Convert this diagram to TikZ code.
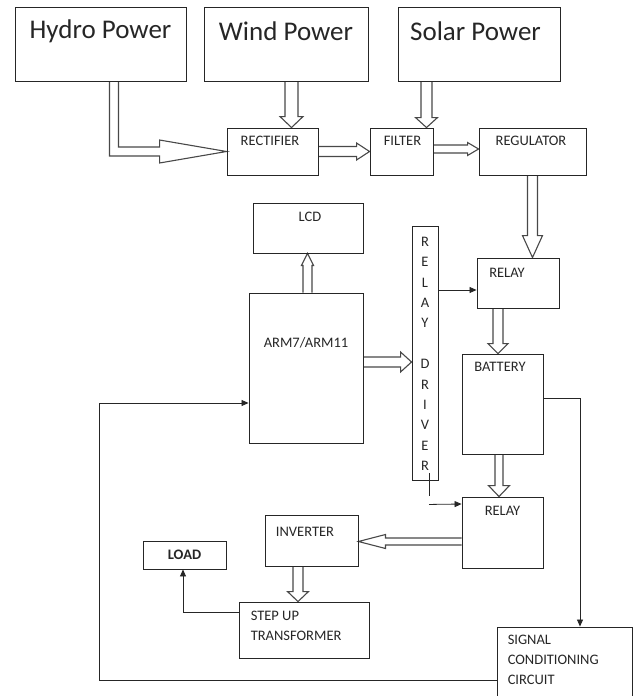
\documentclass[tikz,border=0pt]{standalone}
\usepackage{fontspec}
\setmainfont{Carlito}
\usetikzlibrary{arrows.meta,calc,backgrounds}
\definecolor{ink}{RGB}{38,38,38}
\definecolor{pipe}{RGB}{72,72,72}

\newcommand{\fatarrow}[5]{%
  \draw[fat] let \p1=#1, \p2=#2, \n1={veclen(\x2-\x1,\y2-\y1)},
    \n2={(\x2-\x1)/\n1}, \n3={(\y2-\y1)/\n1} in
    ({\x1-(\n3)*#3},{\y1+(\n2)*#3})
    -- ({\x2-(\n2)*#5-(\n3)*#3},{\y2-(\n3)*#5+(\n2)*#3})
    -- ({\x2-(\n2)*#5-(\n3)*#4},{\y2-(\n3)*#5+(\n2)*#4})
    -- (\p2)
    -- ({\x2-(\n2)*#5+(\n3)*#4},{\y2-(\n3)*#5-(\n2)*#4})
    -- ({\x2-(\n2)*#5+(\n3)*#3},{\y2-(\n3)*#5-(\n2)*#3})
    -- ({\x1+(\n3)*#3},{\y1-(\n2)*#3});
}

\begin{document}
\begin{tikzpicture}[
  x=1pt, y=1pt,
  box/.style={rectangle, draw=ink, line width=0.9pt, inner sep=0pt},
  ttl/.style={anchor=center, inner sep=0pt, text=ink, font=\fontsize{14.5}{20}\selectfont},
  big/.style={ttl, font=\fontsize{27}{32}\selectfont},
  fat/.style={draw=pipe, line width=1.1pt, fill=white, line join=miter},
  wire/.style={draw=ink, line width=0.8pt},
  arr/.style={wire, -{Triangle[length=7pt, width=6pt]}}
]
\useasboundingbox (0,0) rectangle (634,-696);

\node[box, minimum width=171pt, minimum height=74pt, label={[big,yshift=-25pt]north:Hydro Power}] (hydro) at (100.5,-44) {};
\node[box, minimum width=164pt, minimum height=74pt, label={[big,yshift=-25pt]north:Wind Power}] (wind) at (286,-44) {};
\node[box, minimum width=162pt, minimum height=74pt, label={[big,xshift=-3.5pt,yshift=-25pt]north:Solar Power}] (solar) at (479,-44) {};
\node[box, minimum width=91pt, minimum height=47pt, label={[ttl,xshift=-2.5pt,yshift=-13pt]north:RECTIFIER}] (rect) at (272.5,-151.5) {};
\node[box, minimum width=63pt, minimum height=47pt, label={[ttl,xshift=1pt,yshift=-13pt]north:FILTER}] (filter) at (401.5,-151.5) {};
\node[box, minimum width=107pt, minimum height=47pt, label={[ttl,xshift=-1.5pt,yshift=-13pt]north:REGULATOR}] (reg) at (532.5,-151.5) {};
\node[box, minimum width=110pt, minimum height=50pt, label={[ttl,xshift=2pt,yshift=-14pt]north:LCD}] (lcd) at (308,-228) {};
\node[box, minimum width=114pt, minimum height=150pt, label={[ttl,yshift=-50pt]north:ARM7/ARM11}] (arm) at (306,-368) {};
\node[box, minimum width=26pt, minimum height=254pt, label={[ttl,anchor=north,align=center,yshift=-11.3pt,font=\fontsize{14.5}{20.4}\selectfont]north:R\\E\\L\\A\\Y\\ \\D\\R\\I\\V\\E\\R}] (drv) at (425,-353) {};
\node[box, minimum width=82pt, minimum height=50pt, label={[ttl,xshift=-11pt,yshift=-15pt]north:RELAY}] (relaya) at (518,-283) {};
\node[box, minimum width=81pt, minimum height=100pt, label={[ttl,xshift=-2.5pt,yshift=-13pt]north:BATTERY}] (batt) at (502.5,-404) {};
\node[box, minimum width=81pt, minimum height=71pt, label={[ttl,yshift=-14pt]north:RELAY}] (relayb) at (502.5,-532.5) {};
\node[box, minimum width=93pt, minimum height=51pt, label={[ttl,xshift=-6.5pt,yshift=-17pt]north:INVERTER}] (inv) at (311.5,-540.5) {};
\node[box, minimum width=83pt, minimum height=28pt, text=ink, font=\fontsize{14.5}{17}\selectfont\bfseries] (load) at (184.5,-555) {LOAD};
\node[box, minimum width=130pt, minimum height=56pt, label={[ttl,anchor=north west,align=left,xshift=12pt,yshift=-9.3pt]north west:STEP UP\\TRANSFORMER}] (trans) at (304,-630) {};
\node[box, minimum width=135pt, minimum height=93pt, label={[ttl,anchor=north west,align=left,xshift=11pt,yshift=-8.3pt]north west:SIGNAL\\CONDITIONING\\CIRCUIT}] (sig) at (564.5,-673.5) {};

\begin{scope}[on background layer]
\draw[fat] let \p1=([xshift=13.5pt]hydro.south), \p2=(rect.west) in
  ({\x1-4.5pt},\y1) |- ({\x2-67pt},{\y2-4.5pt}) -- ({\x2-67pt},{\y2-11.5pt}) -- (\p2)
  -- ({\x2-67pt},{\y2+11.5pt}) -- ({\x2-67pt},{\y2+4.5pt}) -| ({\x1+4.5pt},\y1);
\fatarrow{([xshift=5.5pt]wind.south)}{([xshift=5.5pt]wind.south |- rect.north)}{6.5}{11.5}{11}
\fatarrow{([xshift=25pt]filter.north |- solar.south)}{([xshift=25pt]filter.north)}{5.5}{11}{10}
\fatarrow{(rect.east)}{(filter.west)}{5}{8.5}{13}
\fatarrow{([yshift=2.5pt]filter.east)}{([yshift=2.5pt]reg.west)}{4}{6.5}{11}
\fatarrow{(reg.south)}{(reg.south |- relaya.north)}{5}{10}{22}
\fatarrow{([xshift=1.5pt]arm.north)}{([xshift=1.5pt]arm.north |- lcd.south)}{4.5}{6}{12}
\fatarrow{([yshift=6pt]arm.east)}{([yshift=6pt]arm.east -| drv.west)}{5}{10}{11}
\fatarrow{([xshift=-20pt]relaya.south)}{([xshift=-20pt]relaya.south |- batt.north)}{5}{10}{10}
\fatarrow{([xshift=-3.5pt]batt.south)}{([xshift=-3.5pt]batt.south |- relayb.north)}{4}{10.5}{11}
\fatarrow{([yshift=-9pt]relayb.west)}{([yshift=-9pt]relayb.west -| inv.east)}{3.5}{7}{27}
\fatarrow{([xshift=-13.5pt]inv.south)}{([xshift=-13.5pt]inv.south |- trans.north)}{5}{10.5}{10}
\end{scope}

\draw[arr] ([yshift=63pt]drv.east) -- ([yshift=-7pt]relaya.west);
\draw[wire] ([xshift=4pt,yshift=7pt]drv.south) -- ([xshift=4pt,yshift=-16pt]drv.south);
\draw[arr] ([xshift=4pt,yshift=-24pt]drv.south) -- ([yshift=28.5pt]relayb.west);
\draw[arr] ([yshift=6pt]batt.east) -| ([xshift=15.5pt]sig.north);
\draw[arr] ([yshift=-6.5pt]sig.west) -| ([xshift=-149pt,yshift=-35pt]arm.west) -- ([yshift=-35pt]arm.west);
\draw[arr] ([yshift=18pt]trans.west) -| ([xshift=-1.5pt]load.south);
\end{tikzpicture}
\end{document}
